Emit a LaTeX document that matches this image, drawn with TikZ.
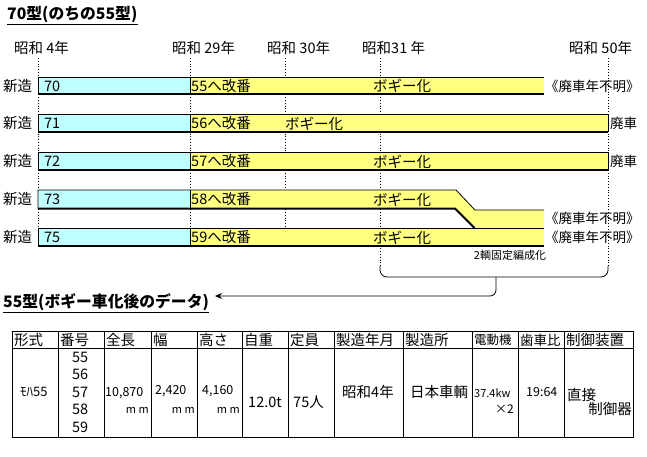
\documentclass[tikz,border=0pt]{standalone}
\usepackage{fontspec}
\setmainfont{Noto Sans CJK JP}
\usetikzlibrary{arrows.meta}
\definecolor{barcyan}{RGB}{192,255,255}
\definecolor{baryel}{RGB}{255,255,128}
\begin{document}
\begin{tikzpicture}[x=1pt,y=-1pt,
  txt/.style={inner sep=0pt, anchor=west, font=\fontsize{14.5}{15}\selectfont},
  endtxt/.style={inner sep=0pt, anchor=west, font=\fontsize{13.5}{14}\selectfont},
  ttl/.style={inner sep=0pt, anchor=west, font=\bfseries\fontsize{15.8}{16}\selectfont},
  small/.style={inner sep=0pt, font=\fontsize{11}{12}\selectfont},
  dotline/.style={dotted, line width=0.8pt},
  edge/.style={line width=0.8pt},
  shadowedge/.style={line width=2pt},
  ]
\useasboundingbox[fill=white] (0,0) rectangle (647,457);
% titles
\node[ttl] (t1) at (7,14) {70型(のちの55型)};
\draw[edge] ([yshift=-1.5pt]t1.south west) -- ([yshift=-1.5pt]t1.south east);
% year labels
\node[txt] (y4) at (14,48) {昭和 4年};
\node[txt] (y29) at (172,48) {昭和 29年};
\node[txt] (y30) at (267,48) {昭和 30年};
\node[txt] (y31) at (362,48) {昭和31 年};
\node[txt] (y50) at (569,48) {昭和 50年};
% dotted guide lines
\draw[dotline] (38,58) -- (38,247);
\draw[dotline] (190,58) -- (190,247);
\draw[dotline] (285,58) -- (285,247);
\draw[dotline] (380,58) -- (380,266);
\draw[dotline] (608,58) -- (608,266);
% row 1
\fill[barcyan] (38,77) rectangle (190,95);
\fill[baryel] (190,77) rectangle (544,95);
\draw[edge] (38,95) -- (38,77) -- (544,77);
\draw[edge] (190,77) -- (190,95);
\draw[shadowedge] (38,94.5) -- (544,94.5);
% row 2
\fill[barcyan] (38,114.5) rectangle (190,132.5);
\fill[baryel] (190,114.5) rectangle (608,132.5);
\draw[edge] (38,132.5) -- (38,114.5) -- (608,114.5) -- (608,132.5);
\draw[edge] (190,114.5) -- (190,132.5);
\draw[shadowedge] (38,132) -- (608,132);
% row 3
\fill[barcyan] (38,152) rectangle (190,170.5);
\fill[baryel] (190,152) rectangle (608,170.5);
\draw[edge] (38,170.5) -- (38,152) -- (608,152) -- (608,170.5);
\draw[edge] (190,152) -- (190,170.5);
\draw[shadowedge] (38,170) -- (608,170);
% row 4 (joins row 5)
\fill[barcyan] (38,190) rectangle (190,208.5);
\fill[baryel] (190,190) -- (456,190) -- (475,210) -- (544,210) -- (544,228) -- (475,228) -- (455,208.5) -- (190,208.5) -- cycle;
\draw[edge] (38,208.5) -- (38,190) -- (456,190) -- (475,210) -- (544,210);
\draw[edge] (190,190) -- (190,208.5);
\draw[shadowedge] (38,208.5) -- (455,208.5) -- (474.5,228);
% row 5
\fill[barcyan] (38,228) rectangle (190,246.5);
\fill[baryel] (190,228) rectangle (544,246.5);
\draw[edge] (38,246.5) -- (38,228) -- (544,228);
\draw[edge] (190,228) -- (190,246.5);
\draw[shadowedge] (38,246) -- (544,246);
% row labels
\node[txt] (n1) at (3,86) {新造};
\node[txt] (n2) at (3,123.5) {新造};
\node[txt] (n3) at (3,161.5) {新造};
\node[txt] (n4) at (3,199.5) {新造};
\node[txt] (n5) at (3,237.5) {新造};
\node[txt] (c1) at (44,86) {70};
\node[txt] (c2) at (44,123.5) {71};
\node[txt] (c3) at (44,161.5) {72};
\node[txt] (c4) at (44,199.5) {73};
\node[txt] (c5) at (44,237.5) {75};
\node[txt] (r1) at (191,86) {55へ改番};
\node[txt] (r2) at (191,123.5) {56へ改番};
\node[txt] (r3) at (191,161.5) {57へ改番};
\node[txt] (r4) at (191,199.5) {58へ改番};
\node[txt] (r5) at (191,237.5) {59へ改番};
\node[txt] (b1) at (373,86) {ボギー化};
\node[txt] (b2) at (285,123.5) {ボギー化};
\node[txt] (b3) at (373,161.5) {ボギー化};
\node[txt] (b4) at (373,199.5) {ボギー化};
\node[txt] (b5) at (373,237.5) {ボギー化};
\node[endtxt] (e1) at (545,86) {《廃車年不明》};
\node[endtxt] (e2) at (610,123.5) {廃車};
\node[endtxt] (e3) at (610,161.5) {廃車};
\node[endtxt] (e4) at (545,218) {《廃車年不明》};
\node[endtxt] (e5) at (545,237.5) {《廃車年不明》};
% bracket and arrow
\node[small, anchor=center] (note) at (510,255) {2輌固定編成化};
\coordinate (bl) at (380,266);
\coordinate (br) at (608,266);
\coordinate (bm) at (496,277);
\coordinate (tip) at (215,296);
\draw[edge, rounded corners=7pt] (bl) |- (br |- bm) -- (br);
\node[ttl] (t2) at (3,302) {55型(ボギー車化後のデータ)};
\draw[edge] ([yshift=-1.5pt]t2.south west) -- ([yshift=-1.5pt]t2.south east);
\draw[edge, rounded corners=6pt, -{Stealth[length=7pt,width=6pt]}] (bm) |- (tip);
% table
\draw[edge] (12,331) rectangle (633,437);
\draw[edge] (12,348) -- (633,348);
\foreach \x in {58,104,151,197,242,288,334,403,472,518,564}
  \draw[edge] (\x,331) -- (\x,437);
\node[txt] (h1) at (14,340) {形式};
\node[txt] (h2) at (60,340) {番号};
\node[txt] (h3) at (106,340) {全長};
\node[txt] (h4) at (153,340) {幅};
\node[txt] (h5) at (199,340) {高さ};
\node[txt] (h6) at (244,340) {自重};
\node[txt] (h7) at (290,340) {定員};
\node[txt] (h8) at (336,340) {製造年月};
\node[txt] (h9) at (405,340) {製造所};
\node[txt, font=\fontsize{12.5}{13}\selectfont] (h10) at (474,340) {電動機};
\node[txt, font=\fontsize{13.5}{14}\selectfont] (h11) at (520,340) {歯車比};
\node[txt] (h12) at (566,340) {制御装置};
\node[txt, font=\fontsize{13}{13}\selectfont] (d1) at (20,392) {ﾓﾊ55};
\node[txt] (d2a) at (72,357) {55};
\node[txt] (d2b) at (72,374.5) {56};
\node[txt] (d2c) at (72,392) {57};
\node[txt] (d2d) at (72,409.5) {58};
\node[txt] (d2e) at (72,427) {59};
\node[txt, font=\fontsize{12.5}{13}\selectfont] (d3) at (105,393) {10,870};
\node[txt, font=\fontsize{11}{12}\selectfont, anchor=east] (d3u) at (149,410) {m m};
\node[txt, font=\fontsize{12.5}{13}\selectfont] (d4) at (155,391) {2,420};
\node[txt, font=\fontsize{11}{12}\selectfont, anchor=east] (d4u) at (195,410) {m m};
\node[txt, font=\fontsize{12.5}{13}\selectfont] (d5) at (202,391) {4,160};
\node[txt, font=\fontsize{11}{12}\selectfont, anchor=east] (d5u) at (240,410) {m m};
\node[txt] (d6) at (248,402) {12.0t};
\node[txt] (d7) at (293,402) {75人};
\node[txt] (d8) at (342,392) {昭和4年};
\node[txt] (d9) at (410,392) {日本車輌};
\node[txt, font=\fontsize{11}{12}\selectfont] (d10) at (474,393) {37.4kw};
\node[txt, font=\fontsize{12}{12}\selectfont, anchor=east] (d10b) at (514,409) {×2};
\node[txt, font=\fontsize{12.5}{13}\selectfont] (d11) at (526,392) {19:64};
\node[txt] (d12) at (567,395) {直接};
\node[txt, anchor=east] (d12b) at (632,409) {制御器};
\end{tikzpicture}
\end{document}
